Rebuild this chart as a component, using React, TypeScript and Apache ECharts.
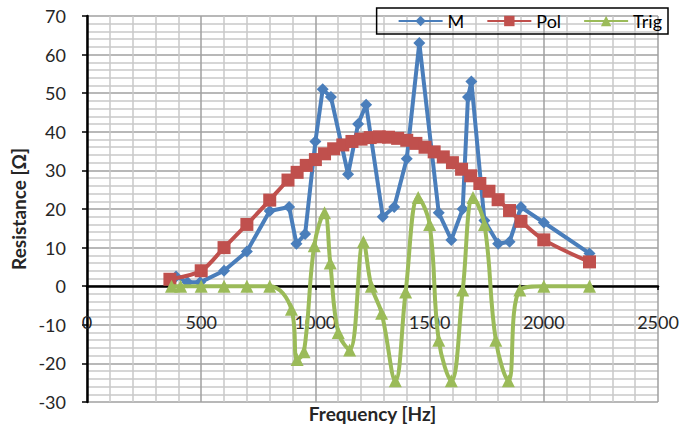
import React, { useEffect, useRef } from "react";
import * as echarts from "echarts";

const mFreq = [390, 440, 495, 600, 700, 800, 885, 917, 955, 1000, 1032, 1068, 1143, 1187, 1222, 1295, 1345, 1400, 1455, 1540, 1595, 1645, 1668, 1683, 1740, 1800, 1850, 1900, 2000, 2200];
const mVal = [2.5, 1, 1, 4, 9, 19.5, 20.5, 11, 13.5, 37.5, 51, 49, 29, 42, 47, 18, 20.5, 33, 63, 19, 12, 20, 49, 53, 17, 11, 11.5, 20.5, 16.5, 8.5];

const polFreq = [363, 500, 600, 700, 800, 880, 920, 960, 1000, 1040, 1080, 1120, 1160, 1200, 1240, 1280, 1320, 1360, 1400, 1440, 1480, 1520, 1560, 1600, 1640, 1680, 1720, 1760, 1800, 1850, 1900, 2000, 2200];
const polVal = [1.8, 4, 10, 16, 22.3, 27.5, 29.5, 31.3, 32.8, 34.3, 35.6, 36.6, 37.5, 38.1, 38.5, 38.7, 38.6, 38.3, 37.8, 37, 36, 34.8, 33.5, 32, 30.3, 28.6, 26.6, 24.6, 22.4, 19.6, 16.8, 12, 6.3];

const trigFreq = [370, 410, 500, 600, 700, 800, 895, 920, 950, 995, 1040, 1065, 1100, 1150, 1210, 1245, 1290, 1350, 1395, 1450, 1500, 1540, 1595, 1645, 1690, 1740, 1790, 1845, 1895, 2000, 2200];
const trigVal = [0, 0, 0, 0, 0, 0, -6, -19, -17, 10.5, 19, 6, -12, -16.5, 11.5, 0, -7, -24.5, -1.5, 23, 16, -14, -24.5, -1, 23, 16, -14, -24.5, -1, 0, 0];

const xTicks = { min: 0, max: 2500, interval: 500 };
const yTicks = { min: -30, max: 70, interval: 10 };

const seriesNames = ["M", "Pol", "Trig"];
const FONT = "Lato, 'Open Sans', sans-serif";

function pairs(xs: number[], ys: number[]) {
  return xs.map((x, i) => [x, ys[i]]);
}

export default function App() {
  const ref = useRef<HTMLDivElement>(null);
  useEffect(() => {
    if (!ref.current) return;
    const chart = echarts.init(ref.current, undefined, { renderer: "svg" });
    const textColor = "#262626";
    chart.setOption({
      animation: false,
      backgroundColor: "#ffffff",
      textStyle: { fontFamily: FONT },
      grid: { left: 87, right: 38, top: 16, bottom: 30, containLabel: false, outerBoundsMode: "none" },
      legend: {
        data: seriesNames,
        top: 8,
        right: 28,
        orient: "horizontal",
        itemWidth: 44,
        itemHeight: 13,
        itemGap: 22,
        borderColor: "#000",
        borderWidth: 1.5,
        borderRadius: 0,
        padding: [4, 6, 4, 21],
        textStyle: { fontSize: 18, color: "#000", fontFamily: FONT },
      },
      xAxis: {
        type: "value",
        min: xTicks.min,
        max: xTicks.max,
        interval: xTicks.interval,
        offset: -116,
        name: "Frequency [Hz]",
        nameLocation: "middle",
        nameGap: 118,
        nameTextStyle: { fontWeight: "bold", fontSize: 19, color: textColor, fontFamily: FONT },
        axisLine: { show: true, onZero: false, lineStyle: { color: "#000", width: 2.5 } },
        axisTick: { show: true, length: 4, lineStyle: { color: "#000", width: 1.5 } },
        axisLabel: { margin: 27, fontSize: 18, color: textColor, fontFamily: FONT, formatter: (v: number) => String(v) },
        splitLine: { show: true, lineStyle: { color: "#a0a0a0", width: 1.5 } },
        minorTick: { show: false, splitNumber: 5 },
        minorSplitLine: { show: true, lineStyle: { color: "#c8c8c8", width: 1.5 } },
      },
      yAxis: {
        type: "value",
        min: yTicks.min,
        max: yTicks.max,
        interval: yTicks.interval,
        name: "Resistance [Ω]",
        nameLocation: "middle",
        nameGap: 56,
        nameTextStyle: { fontWeight: "bold", fontSize: 19, color: textColor, fontFamily: FONT },
        axisLine: { show: true, onZero: false, lineStyle: { color: "#000", width: 2.5 } },
        axisTick: { show: true, length: 5, lineStyle: { color: "#000", width: 1.5 } },
        axisLabel: { margin: 21, fontSize: 18, color: textColor, fontFamily: FONT, formatter: (v: number) => String(v) },
        splitLine: { show: true, lineStyle: { color: "#a0a0a0", width: 1.5 } },
        minorTick: { show: false, splitNumber: 5 },
        minorSplitLine: { show: true, lineStyle: { color: "#c8c8c8", width: 1.5 } },
      },
      series: [
        {
          name: seriesNames[0],
          type: "line",
          data: pairs(mFreq, mVal),
          symbol: "diamond",
          symbolSize: 12,
          lineStyle: { color: "#4A7EBB", width: 4 },
          itemStyle: { color: "#4A7EBB", borderWidth: 0 },
          z: 2,
        },
        {
          name: seriesNames[1],
          type: "line",
          data: pairs(polFreq, polVal),
          symbol: "rect",
          symbolSize: 13,
          smooth: 0.3,
          lineStyle: { color: "#C0504D", width: 4 },
          itemStyle: { color: "#C0504D", borderWidth: 0 },
          z: 3,
        },
        {
          name: seriesNames[2],
          type: "line",
          data: pairs(trigFreq, trigVal),
          symbol: "triangle",
          symbolSize: 13,
          smooth: 0.4,
          lineStyle: { color: "#9BBB59", width: 4 },
          itemStyle: { color: "#9BBB59", borderWidth: 0 },
          z: 4,
        },
      ],
    });
    return () => chart.dispose();
  }, []);
  return (
    <div
      ref={ref}
      style={{ position: "fixed", left: 0, top: 0, width: 696, height: 432, background: "#fff" }}
    />
  );
}
